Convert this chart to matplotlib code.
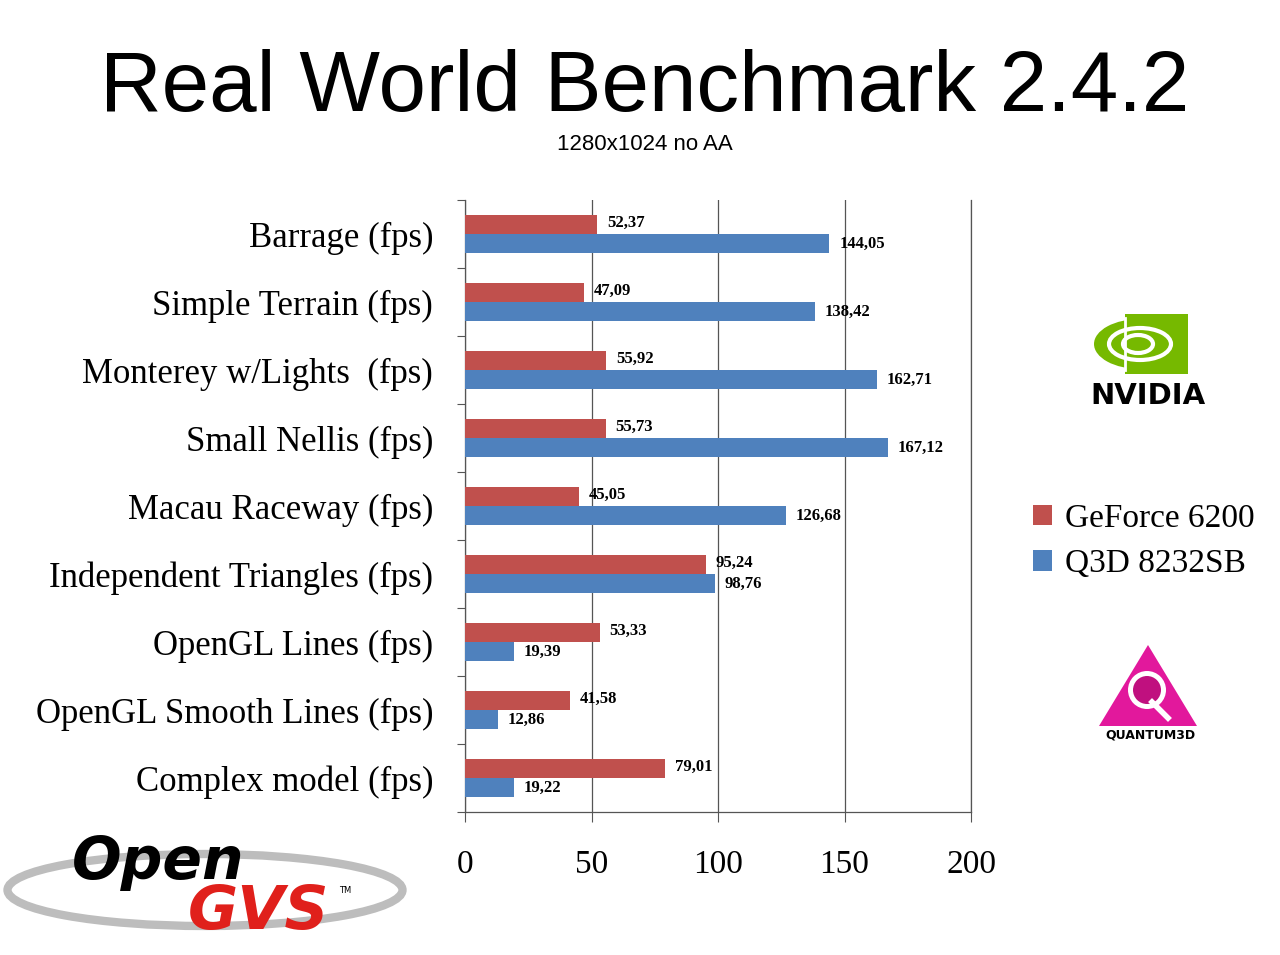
import numpy as np
import matplotlib
matplotlib.use('Agg')
import matplotlib.pyplot as plt
from matplotlib.patches import Rectangle, Ellipse, Polygon, Circle

###: Data
categories = ['Barrage (fps)', 'Simple Terrain (fps)', 'Monterey w/Lights  (fps)',
              'Small Nellis (fps)', 'Macau Raceway (fps)', 'Independent Triangles (fps)',
              'OpenGL Lines (fps)', 'OpenGL Smooth Lines (fps)', 'Complex model (fps)']
geforce = [52.37, 47.09, 55.92, 55.73, 45.05, 95.24, 53.33, 41.58, 79.01]
q3d = [144.05, 138.42, 162.71, 167.12, 126.68, 98.76, 19.39, 12.86, 19.22]
series_names = ['GeForce 6200', 'Q3D 8232SB']
x_ticks = [0, 50, 100, 150, 200]

red = '#C0504D'
blue = '#4F81BD'
grid_c = '#555555'
serif = 'Liberation Serif'
sans = 'Liberation Sans'

fig = plt.figure(figsize=(12.8, 9.55), dpi=100)

###: Background layer in pixel coords for title and logos
bg = fig.add_axes([0, 0, 1, 1])
bg.set_xlim(0, 1280)
bg.set_ylim(955, 0)
bg.axis('off')

bg.text(645, 80, 'Real World Benchmark 2.4.2', family=sans, fontsize=61.5,
        ha='center', va='center_baseline')
bg.text(645, 145, '1280x1024 no AA', family=sans, fontsize=16,
        ha='center', va='center')

# NVIDIA logo (rough)
bg.add_patch(Rectangle((1125, 314), 63, 60, color='#76B900', lw=0))
bg.add_patch(Ellipse((1140, 344), 92, 50, color='#76B900', lw=0))
bg.add_patch(Ellipse((1140, 344), 62, 32, fill=False, ec='white', lw=3))
bg.add_patch(Ellipse((1138, 344), 30, 18, fill=False, ec='white', lw=3))
bg.plot([1125, 1125], [318, 370], color='white', lw=2)
bg.text(1148, 396, 'NVIDIA', family='DejaVu Sans', fontweight='bold', fontsize=21,
        ha='center', va='center')

# Quantum3D logo (rough)
bg.add_patch(Polygon([(1148, 645), (1099, 726), (1197, 726)], closed=True,
                     color='#E2189C', lw=0))
bg.add_patch(Circle((1147, 690), 19, color='white', lw=0))
bg.add_patch(Circle((1147, 690), 14, color='#C0107F', lw=0))
bg.plot([1152, 1168], [702, 718], color='white', lw=4)
bg.text(1150, 735, 'QUANTUM3D', family='DejaVu Sans', fontweight='bold', fontsize=9,
        ha='center', va='center')

# OpenGVS logo (rough)
bg.add_patch(Ellipse((205, 890), 395, 72, fill=False, ec='#BDBDBD', lw=6))
bg.text(158, 862, 'Open', family='DejaVu Sans', fontstyle='italic', fontweight='bold',
        fontsize=42, ha='center', va='center', color='black')
bg.text(258, 912, 'GVS', family='DejaVu Sans', fontstyle='italic', fontweight='bold',
        fontsize=44, ha='center', va='center', color='#E0201B')
bg.text(345, 890, 'TM', family='DejaVu Sans', fontsize=6, ha='center', va='center')

###: Main chart
ax = fig.add_axes([465 / 1280, 1 - 812 / 955, 506 / 1280, 612 / 955])
ax.set_facecolor('none')

y = np.arange(len(categories))
h = 0.28
ax.barh(y - h / 2, geforce, height=h, color=red, label=series_names[0], zorder=3)
ax.barh(y + h / 2, q3d, height=h, color=blue, label=series_names[1], zorder=3)

for i in range(len(categories)):
    ax.annotate(f'{geforce[i]:.2f}'.replace('.', ','), (geforce[i], y[i] - h / 2),
                xytext=(7, 1), textcoords='offset points', ha='left', va='center',
                family=serif, fontweight='bold', fontsize=12)
    ax.annotate(f'{q3d[i]:.2f}'.replace('.', ','), (q3d[i], y[i] + h / 2),
                xytext=(7, 0), textcoords='offset points', ha='left', va='center',
                family=serif, fontweight='bold', fontsize=12)

ax.set_xlim(0, 200)
ax.set_ylim(len(categories) - 0.5, -0.5)
ax.set_xticks(x_ticks)
ax.set_xticklabels([str(t) for t in x_ticks], family=serif, fontsize=24)
ax.set_yticks(y)
ax.set_yticklabels(categories, family=serif, fontsize=25)
ax.set_yticks(np.arange(-0.5, len(categories), 1), minor=True)
ax.tick_params(axis='y', which='major', length=0, pad=23)
ax.tick_params(axis='y', which='minor', length=6, width=0.8, color=grid_c)
ax.tick_params(axis='x', length=7, width=0.8, color=grid_c, pad=20)

ax.xaxis.grid(True, color=grid_c, lw=0.9, zorder=0)
ax.spines['top'].set_visible(False)
for s in ['left', 'bottom', 'right']:
    ax.spines[s].set_color(grid_c)
    ax.spines[s].set_linewidth(0.9)

leg = ax.legend(loc='upper left', bbox_to_anchor=(1020 / 1280, 1 - 490 / 955),
                bbox_transform=fig.transFigure, frameon=False,
                prop={'family': serif, 'size': 24}, handlelength=0.55, handleheight=0.55,
                handletextpad=0.4, labelspacing=0.45, borderaxespad=0)

fig.savefig('out.png', dpi=100, facecolor='white')
